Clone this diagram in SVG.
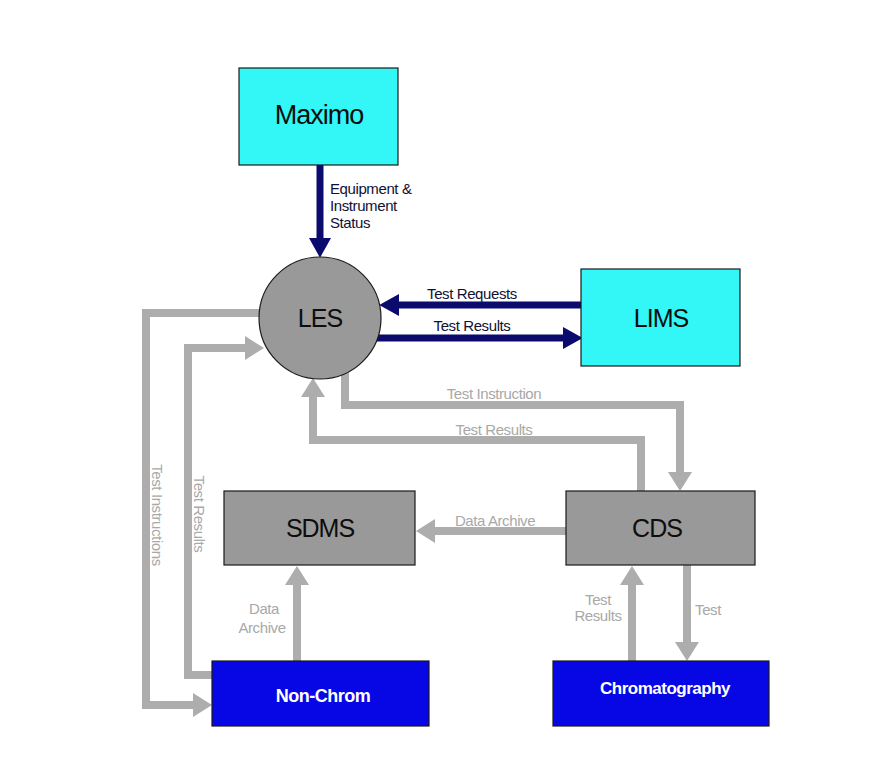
<svg xmlns="http://www.w3.org/2000/svg" width="886" height="776" viewBox="0 0 886 776">
<defs>
<style>
.node{stroke:#1a1a1a;stroke-width:1.2}
.cyan{fill:#33F6F6}
.grey{fill:#999999}
.blue{fill:#0707E6}
.nt{font-family:"Liberation Sans",Arial,sans-serif;font-size:25px;fill:#0d0d0d;text-anchor:middle;letter-spacing:-1px}
.wt{font-family:"Liberation Sans",Arial,sans-serif;font-size:17px;font-weight:bold;fill:#ffffff;text-anchor:middle;letter-spacing:-0.5px}
.navy{fill:none;stroke:#0B0B6E;stroke-width:7}
.gl{fill:none;stroke:#ADADAD;stroke-width:8}
.lb{font-family:"Liberation Sans",Arial,sans-serif;font-size:15px;fill:#111133;letter-spacing:-0.4px}
.gb{font-family:"Liberation Sans",Arial,sans-serif;font-size:15px;fill:#A8A8A8;letter-spacing:-0.4px}
</style>
<marker id="hn" markerUnits="userSpaceOnUse" markerWidth="20" markerHeight="22" refX="0" refY="10" orient="auto" viewBox="0 0 18 20">
<path d="M0,0 L18,10 L0,20 z" fill="#0B0B6E"/>
</marker>
<marker id="hg" markerUnits="userSpaceOnUse" markerWidth="20" markerHeight="24" refX="0" refY="12" orient="auto" viewBox="0 0 19 24">
<path d="M0,0 L19,12 L0,24 z" fill="#ADADAD"/>
</marker>
</defs>
<rect width="886" height="776" fill="#ffffff"/>
<g id="connectors">
<path class="navy" d="M320,165 V238" marker-end="url(#hn)"/>
<path class="navy" d="M581,305 H399" marker-end="url(#hn)"/>
<path class="navy" d="M372,338 H563" marker-end="url(#hn)"/>
<path class="gl" d="M262,313 H146 V705 H193" marker-end="url(#hg)"/>
<path class="gl" d="M212,675 H188 V348 H245" marker-end="url(#hg)"/>
<path class="gl" d="M345,372 V405 H680 V472" marker-end="url(#hg)"/>
<path class="gl" d="M641,491 V440 H313 V397" marker-end="url(#hg)"/>
<path class="gl" d="M566,531 H435" marker-end="url(#hg)"/>
<path class="gl" d="M297,661 V585" marker-end="url(#hg)"/>
<path class="gl" d="M632,661 V585" marker-end="url(#hg)"/>
<path class="gl" d="M687,565 V642" marker-end="url(#hg)"/>
<text class="lb" x="330" y="194">Equipment &amp;</text>
<text class="lb" x="330" y="211">Instrument</text>
<text class="lb" x="330" y="228">Status</text>
<text class="lb" x="472" y="299" text-anchor="middle">Test Requests</text>
<text class="lb" x="472" y="331" text-anchor="middle">Test Results</text>
<text class="gb" x="494" y="399" text-anchor="middle">Test Instruction</text>
<text class="gb" x="494" y="435" text-anchor="middle">Test Results</text>
<text class="gb" x="495" y="526" text-anchor="middle">Data Archive</text>
<text class="gb" x="264" y="614" text-anchor="middle">Data</text>
<text class="gb" x="262" y="633" text-anchor="middle">Archive</text>
<text class="gb" x="598" y="605" text-anchor="middle">Test</text>
<text class="gb" x="598" y="621" text-anchor="middle">Results</text>
<text class="gb" x="708" y="615" text-anchor="middle">Test</text>
<text class="gb" transform="translate(152,515) rotate(90)" text-anchor="middle">Test Instructions</text>
<text class="gb" transform="translate(194,514) rotate(90)" text-anchor="middle">Test Results</text>
</g>
<g id="maximo">
<rect class="node cyan" x="239" y="68" width="159" height="97"/>
<text class="nt" x="319" y="124" style="font-size:27px">Maximo</text>
</g>
<g id="les">
<circle class="node grey" cx="320" cy="318" r="61"/>
<text class="nt" x="320" y="327">LES</text>
</g>
<g id="lims">
<rect class="node cyan" x="581" y="269" width="159" height="97"/>
<text class="nt" x="661" y="327">LIMS</text>
</g>
<g id="sdms">
<rect class="node grey" x="224" y="491" width="191" height="74"/>
<text class="nt" x="320" y="537">SDMS</text>
</g>
<g id="cds">
<rect class="node grey" x="566" y="491" width="189" height="74"/>
<text class="nt" x="657" y="537">CDS</text>
</g>
<g id="nonchrom">
<rect class="node blue" x="212" y="661" width="217" height="65"/>
<text class="wt" x="323" y="702" style="font-size:18px">Non-Chrom</text>
</g>
<g id="chromatography">
<rect class="node blue" x="553" y="661" width="216" height="65"/>
<text class="wt" x="665" y="694">Chromatography</text>
</g>
</svg>
